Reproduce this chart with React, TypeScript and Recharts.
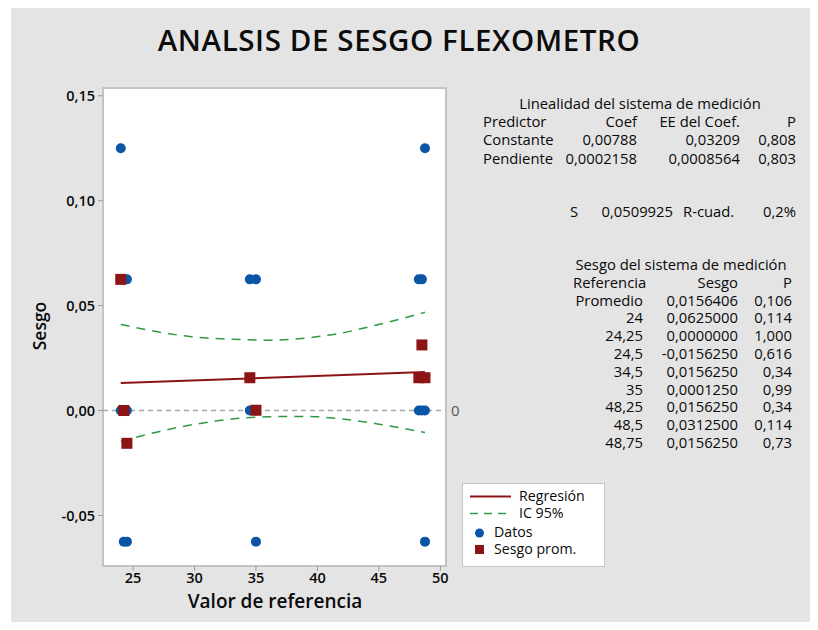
import type { CSSProperties } from "react";
import {
  ComposedChart, Scatter, Line, XAxis, YAxis, CartesianGrid,
  ReferenceLine, ReferenceArea,
} from "recharts";

// --- data ---
const REF_VALUES = [24, 24.25, 24.5, 34.5, 35, 48.25, 48.5, 48.75];
const SESGO_PROM = [0.0625, 0, -0.015625, 0.015625, 0.000125, 0.015625, 0.03125, 0.015625];

const DATOS_REF = [
  24, 48.75,
  24, 24.5, 34.5, 35, 48.25, 48.5,
  24, 24.25, 24.5, 34.5, 35, 48.25, 48.5, 48.75,
  24.25, 24.5, 35, 48.75,
];
const DATOS_SESGO = [
  0.125, 0.125,
  0.0625, 0.0625, 0.0625, 0.0625, 0.0625, 0.0625,
  0, 0, 0, 0, 0, 0, 0, 0,
  -0.0625, -0.0625, -0.0625, -0.0625,
];

const REG_X = [24, 48.75];
const REG_Y = [0.01306, 0.0184];

const CI_X = [24, 27, 30, 33, 36, 39, 42, 45, 48.75];
const CI_UPPER = [0.041, 0.0375, 0.035, 0.034, 0.0335, 0.0345, 0.037, 0.041, 0.0468];
const CI_LOWER = [-0.0148, -0.0102, -0.0066, -0.0041, -0.003, -0.0028, -0.004, -0.0065, -0.0105];

const X_TICKS = [25, 30, 35, 40, 45, 50];
const Y_TICKS = [-0.05, 0, 0.05, 0.1, 0.15];
const X_DOMAIN: [number, number] = [22.555, 50.46];
const Y_DOMAIN: [number, number] = [-0.0741, 0.1537];

const TITLE = "ANALSIS DE SESGO FLEXOMETRO";
const X_LABEL = "Valor de referencia";
const Y_LABEL = "Sesgo";

const LIN_TITLE = "Linealidad del sistema de medición";
const LIN_HEADER = ["Predictor", "Coef", "EE del Coef.", "P"];
const LIN_PREDICTORS = ["Constante", "Pendiente"];
const LIN_COEF = ["0,00788", "0,0002158"];
const LIN_SE = ["0,03209", "0,0008564"];
const LIN_P = ["0,808", "0,803"];
const S_VALUE = "0,0509925";
const R_SQ = "0,2%";

const BIAS_TITLE = "Sesgo del sistema de medición";
const BIAS_HEADER = ["Referencia", "Sesgo", "P"];
const BIAS_REFS = ["Promedio", "24", "24,25", "24,5", "34,5", "35", "48,25", "48,5", "48,75"];
const BIAS_VALUES = ["0,0156406", "0,0625000", "0,0000000", "-0,0156250", "0,0156250", "0,0001250", "0,0156250", "0,0312500", "0,0156250"];
const BIAS_P = ["0,106", "0,114", "1,000", "0,616", "0,34", "0,99", "0,34", "0,114", "0,73"];

const LEGEND_NAMES = ["Regresión", "IC 95%", "Datos", "Sesgo prom."];

// --- styling ---
const W = 818;
const H = 630;
const FONT = '"Open Sans", "Noto Sans", sans-serif';
const BLUE = "#0a55a6";
const RED = "#8c1414";
const GREEN = "#2f9a44";
const FRAME = "#c4c4c4";
const TEXT = "#0a0a0a";

const datos = DATOS_REF.map((x, i) => ({ x, y: DATOS_SESGO[i] }));
const prom = REF_VALUES.map((x, i) => ({ x, y: SESGO_PROM[i] }));
const reg = REG_X.map((x, i) => ({ x, y: REG_Y[i] }));
const ciUp = CI_X.map((x, i) => ({ x, y: CI_UPPER[i] }));
const ciLow = CI_X.map((x, i) => ({ x, y: CI_LOWER[i] }));

const fmtY = (v: number) => v.toFixed(2).replace(".", ",");

const tickStyle = { fontSize: 14.5, fill: TEXT, fontWeight: 600, fontFamily: FONT };

function Txt({ x, y, align = "left", children, style }: {
  x: number; y: number; align?: "left" | "right" | "center"; children: React.ReactNode; style?: CSSProperties;
}) {
  const base: CSSProperties = {
    position: "absolute", top: y - 8, height: 16, lineHeight: "16px",
    whiteSpace: "nowrap", fontFamily: FONT, fontSize: 14.8, color: TEXT,
  };
  if (align === "left") base.left = x;
  else if (align === "right") base.right = W - x;
  else { base.left = x; base.transform = "translateX(-50%)"; }
  return <div style={{ ...base, ...style }}>{children}</div>;
}

const Dot = (p: any) => <circle cx={p.cx} cy={p.cy} r={5} fill={BLUE} />;
const Sq = (p: any) => <rect x={p.cx - 5.5} y={p.cy - 5.5} width={11} height={11} fill={RED} />;

export default function App() {
  return (
    <div style={{ position: "relative", width: W, height: H, background: "#fff", margin: -8 }}>
      <div style={{ position: "absolute", left: 11, top: 6, right: 0, bottom: 0, background: "#e4e4e4" }} />

      <div style={{ position: "absolute", left: 0, top: 0 }}>
        <ComposedChart width={W} height={H} data={datos} margin={{ top: 88, right: 372, bottom: 0, left: 0 }}>
          <CartesianGrid horizontal={false} vertical={false} fill="#ffffff" />
          <XAxis
            type="number" dataKey="x" domain={X_DOMAIN} ticks={X_TICKS} allowDataOverflow
            axisLine={false} tickLine={{ stroke: "#9a9a9a" }} tickSize={5} tickMargin={2}
            height={64} tick={tickStyle}
          />
          <YAxis
            type="number" dataKey="y" domain={Y_DOMAIN} ticks={Y_TICKS} allowDataOverflow
            axisLine={false} tickLine={{ stroke: "#9a9a9a" }} tickSize={5} tickMargin={3}
            width={103} tick={tickStyle} tickFormatter={fmtY}
          />
          <ReferenceArea
            x1={X_DOMAIN[0]} x2={X_DOMAIN[1]} y1={Y_DOMAIN[0]} y2={Y_DOMAIN[1]}
            fill="none" fillOpacity={0} stroke={FRAME} strokeWidth={2} strokeOpacity={1}
          />
          <ReferenceLine
            y={0} stroke="#a8a8a8" strokeWidth={1.5} strokeDasharray="5 4"
            label={{ value: "0", position: "right", fill: "#555", fontSize: 15, fontFamily: FONT }}
          />
          <Line data={ciUp} dataKey="y" type="monotone" stroke={GREEN} strokeWidth={1.5} strokeDasharray="9 7" dot={false} isAnimationActive={false} />
          <Line data={ciLow} dataKey="y" type="monotone" stroke={GREEN} strokeWidth={1.5} strokeDasharray="9 7" dot={false} isAnimationActive={false} />
          <Line data={reg} dataKey="y" type="linear" stroke={RED} strokeWidth={2} dot={false} isAnimationActive={false} />
          <Scatter data={datos} dataKey="y" shape={Dot} isAnimationActive={false} />
          <Scatter data={prom} dataKey="y" shape={Sq} isAnimationActive={false} />
        </ComposedChart>
      </div>

      {/* title and axis titles */}
      <Txt x={399} y={40} align="center" style={{ fontSize: 29.5, fontWeight: 600, letterSpacing: 0.6, color: "#0c0c0c", height: 40, lineHeight: "40px", top: 20 }}>{TITLE}</Txt>
      <Txt x={275} y={601} align="center" style={{ fontSize: 19, fontWeight: 600, height: 24, lineHeight: "24px", top: 589 }}>{X_LABEL}</Txt>
      <div style={{
        position: "absolute", left: 39, top: 326, transform: "translate(-50%, -50%) rotate(-90deg)",
        fontFamily: FONT, fontSize: 17.5, fontWeight: 600, color: TEXT, whiteSpace: "nowrap",
      }}>{Y_LABEL}</div>

      {/* linearity table */}
      <Txt x={640} y={103} align="center">{LIN_TITLE}</Txt>
      <Txt x={483} y={121}>{LIN_HEADER[0]}</Txt>
      <Txt x={637} y={121} align="right">{LIN_HEADER[1]}</Txt>
      <Txt x={740} y={121} align="right">{LIN_HEADER[2]}</Txt>
      <Txt x={796} y={121} align="right">{LIN_HEADER[3]}</Txt>
      {LIN_PREDICTORS.map((p, i) => (
        <div key={p}>
          <Txt x={483} y={139 + i * 18.5}>{p}</Txt>
          <Txt x={637} y={139 + i * 18.5} align="right">{LIN_COEF[i]}</Txt>
          <Txt x={740} y={139 + i * 18.5} align="right">{LIN_SE[i]}</Txt>
          <Txt x={796} y={139 + i * 18.5} align="right">{LIN_P[i]}</Txt>
        </div>
      ))}
      <Txt x={570} y={211}>S</Txt>
      <Txt x={673} y={211} align="right">{S_VALUE}</Txt>
      <Txt x={683} y={211}>R-cuad.</Txt>
      <Txt x={796} y={211} align="right">{R_SQ}</Txt>

      {/* bias table */}
      <Txt x={681} y={264} align="center">{BIAS_TITLE}</Txt>
      <Txt x={573} y={282}>{BIAS_HEADER[0]}</Txt>
      <Txt x={738} y={282} align="right">{BIAS_HEADER[1]}</Txt>
      <Txt x={792} y={282} align="right">{BIAS_HEADER[2]}</Txt>
      {BIAS_REFS.map((r, i) => (
        <div key={r}>
          <Txt x={643} y={299.5 + i * 17.8} align="right">{r}</Txt>
          <Txt x={738} y={299.5 + i * 17.8} align="right">{BIAS_VALUES[i]}</Txt>
          <Txt x={792} y={299.5 + i * 17.8} align="right">{BIAS_P[i]}</Txt>
        </div>
      ))}

      {/* legend */}
      <div style={{
        position: "absolute", left: 462, top: 483, width: 141, height: 82,
        background: "#fff", border: `1px solid ${FRAME}`,
      }}>
        <svg width={141} height={82} style={{ position: "absolute", left: 0, top: 0 }}>
          <line x1={7} x2={48} y1={12.5} y2={12.5} stroke={RED} strokeWidth={2} />
          <line x1={7} x2={48} y1={29.5} y2={29.5} stroke={GREEN} strokeWidth={1.5} strokeDasharray="8 6" />
          <circle cx={16.5} cy={49} r={4.5} fill={BLUE} />
          <rect x={12} y={61} width={9} height={9} fill={RED} />
        </svg>
      </div>
      <Txt x={519} y={495.5} style={{ fontSize: 14.2 }}>{LEGEND_NAMES[0]}</Txt>
      <Txt x={519} y={512.5} style={{ fontSize: 14.2 }}>{LEGEND_NAMES[1]}</Txt>
      <Txt x={494} y={532} style={{ fontSize: 14.2 }}>{LEGEND_NAMES[2]}</Txt>
      <Txt x={494} y={549} style={{ fontSize: 14.2 }}>{LEGEND_NAMES[3]}</Txt>
    </div>
  );
}
